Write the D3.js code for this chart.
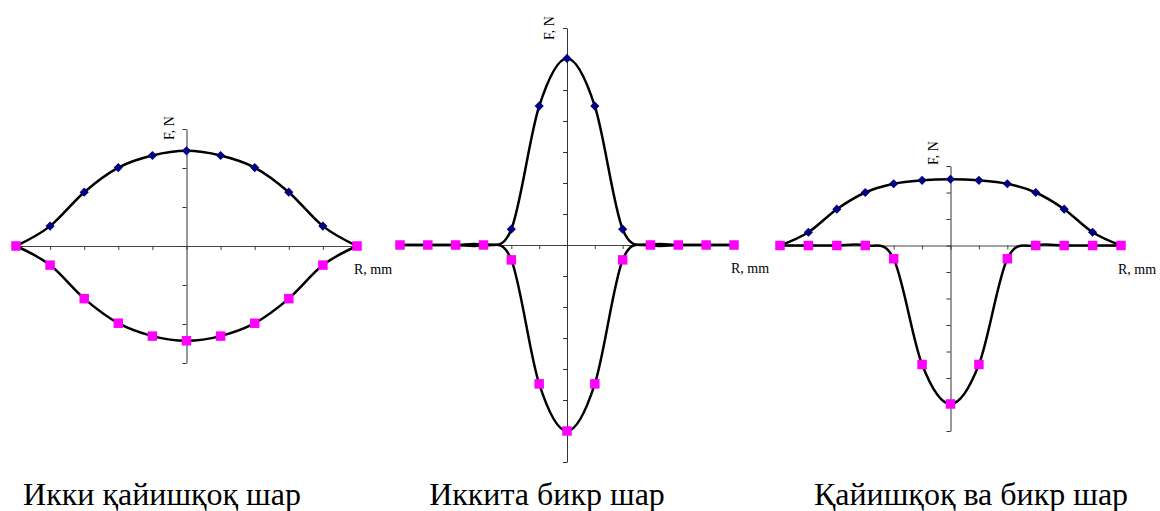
<!DOCTYPE html>
<html>
<head>
<meta charset="utf-8">
<script src="https://cdn.jsdelivr.net/npm/d3@7"></script>
<style>
  html, body { margin: 0; padding: 0; background: #fff; }
  svg { display: block; }
  text { font-family: "Liberation Serif", "Times New Roman", serif; fill: #000; }
</style>
</head>
<body>
<svg id="chart" width="1160" height="511"></svg>
<script>
// Radial position of the measuring point, mm (relative units)
const r1 = [-5, -4, -3, -2, -1, 0, 1, 2, 3, 4, 5];
const r2 = [-6, -5, -4, -3, -2, -1, 0, 1, 2, 3, 4, 5, 6];
const r3 = [-6, -5, -4, -3, -2, -1, 0, 1, 2, 3, 4, 5, 6];

// Force, N — two elastic balls
const f1Upper = [0, 0.51, 1.38, 2.01, 2.32, 2.44, 2.32, 2.01, 1.38, 0.51, 0];
const f1Lower = [0, -0.49, -1.35, -1.98, -2.31, -2.43, -2.31, -1.98, -1.35, -0.49, 0];

// Force, N — two rigid balls
const f2Upper = [0, 0, 0, 0, 0.51, 4.48, 6.02, 4.48, 0.51, 0, 0, 0, 0];
const f2Lower = [0, 0, 0, 0, -0.48, -4.48, -6.0, -4.48, -0.48, 0, 0, 0, 0];

// Force, N — elastic and rigid ball
const f3Upper = [0, 0.5, 1.37, 2.0, 2.33, 2.46, 2.5, 2.46, 2.33, 2.0, 1.37, 0.5, 0];
const f3Lower = [0, 0, 0, 0, -0.5, -4.49, -5.98, -4.49, -0.5, 0, 0, 0, 0];

// Axis extents (in the same units) and captions
const xExtent1 = [-5, 5], yExtent1 = [-3, 3];
const xExtent2 = [-6, 6], yExtent2 = [-7, 7];
const xExtent3 = [-6, 6], yExtent3 = [-7, 3];
const captions = ["Икки қайишқоқ шар", "Иккита бикр шар", "Қайишқоқ ва бикр шар"];
const xTitle = "R, mm";
const yTitle = "F, N";

const panels = [
  { r: r1, upper: f1Upper, lower: f1Lower, xd: xExtent1, yd: yExtent1,
    px: [16, 357], py: [363, 129], fnY: 140, capX: 162, caption: captions[0] },
  { r: r2, upper: f2Upper, lower: f2Lower, xd: xExtent2, yd: yExtent2,
    px: [400, 734], py: [462, 28], fnY: 40, capX: 547, caption: captions[1] },
  { r: r3, upper: f3Upper, lower: f3Lower, xd: xExtent3, yd: yExtent3,
    px: [780, 1121], py: [431, 166], fnY: 165, capX: 971, caption: captions[2] }
];

const svg = d3.select("#chart");

const diamond = d3.symbol().type(d3.symbolSquare).size(42);
const square = d3.symbol().type(d3.symbolSquare).size(90);

panels.forEach(p => {
  const x = d3.scaleLinear().domain(p.xd).range(p.px);
  const y = d3.scaleLinear().domain(p.yd).range(p.py);
  const g = svg.append("g");

  // horizontal axis through F = 0
  const xAxis = d3.axisBottom(x)
    .tickValues(d3.range(p.xd[0], p.xd[1] + 1))
    .tickSizeInner(4).tickSizeOuter(0).tickFormat("");
  g.append("g")
    .attr("transform", `translate(0,${y(0)})`)
    .call(xAxis)
    .call(s => s.selectAll("path,line").attr("stroke", "#444"));

  // vertical axis through R = 0
  const yAxis = d3.axisLeft(y)
    .tickValues(d3.range(p.yd[0], p.yd[1] + 1))
    .tickSizeInner(4).tickSizeOuter(0).tickFormat("");
  g.append("g")
    .attr("transform", `translate(${x(0)},0)`)
    .call(yAxis)
    .call(s => s.selectAll("path,line").attr("stroke", "#333"));

  // axis titles
  g.append("text")
    .attr("x", p.px[1] - 3).attr("y", y(0) + 28)
    .attr("font-size", 14)
    .text(xTitle);
  g.append("text")
    .attr("transform", `translate(${x(0) - 13},${p.fnY}) rotate(-90)`)
    .attr("font-size", 14)
    .text(yTitle);

  const line = d3.line()
    .x((d, i) => x(p.r[i]))
    .y(d => y(d))
    .curve(d3.curveCardinal.tension(0));

  // upper series: smoothed line with navy diamonds
  g.append("path").datum(p.upper)
    .attr("d", line).attr("fill", "none")
    .attr("stroke", "#000").attr("stroke-width", 2.5);
  g.selectAll(".dia").data(p.upper).join("path")
    .attr("d", diamond)
    .attr("transform", (d, i) => `translate(${x(p.r[i])},${y(d)}) rotate(45)`)
    .attr("fill", "#000080");

  // lower series: smoothed line with magenta squares
  g.append("path").datum(p.lower)
    .attr("d", line).attr("fill", "none")
    .attr("stroke", "#000").attr("stroke-width", 2.5);
  g.selectAll(".sq").data(p.lower).join("path")
    .attr("d", square)
    .attr("transform", (d, i) => `translate(${x(p.r[i])},${y(d)})`)
    .attr("fill", "#ff00ff");

  // caption under each panel
  svg.append("text")
    .attr("x", p.capX).attr("y", 505)
    .attr("text-anchor", "middle")
    .attr("font-size", 32)
    .text(p.caption);
});
</script>
</body>
</html>
